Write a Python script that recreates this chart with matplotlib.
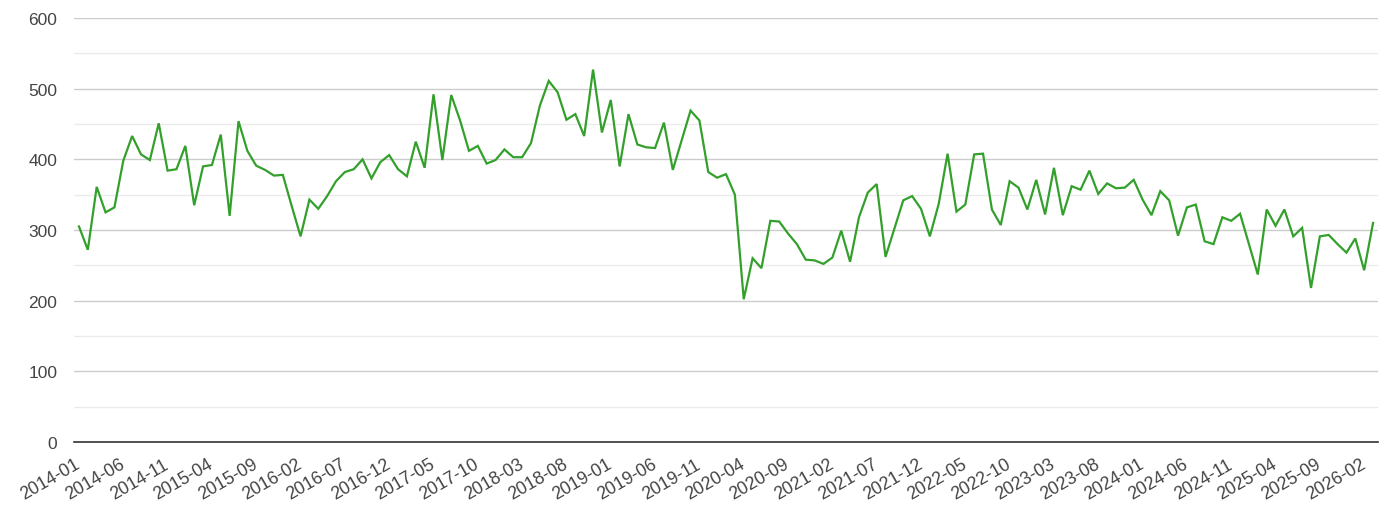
import matplotlib
matplotlib.use("Agg")
import matplotlib.pyplot as plt
from matplotlib.ticker import MultipleLocator
import pandas as pd

# ---- data ----
start_month = "2014-01"
values = [
    305, 272, 361, 325, 332, 398, 433, 407, 399, 451, 384, 386,   # 2014
    419, 335, 390, 392, 435, 320, 454, 412, 391, 385, 377, 378,   # 2015
    334, 291, 343, 330, 348, 369, 382, 386, 400, 373, 396, 406,   # 2016
    386, 376, 425, 388, 492, 399, 491, 455, 412, 419, 394, 399,   # 2017
    414, 403, 403, 423, 476, 511, 495, 456, 464, 433, 527, 438,   # 2018
    484, 390, 464, 421, 417, 416, 452, 385, 427, 469, 455, 382,   # 2019
    374, 379, 350, 202, 260, 246, 313, 312, 295, 280, 258, 257,   # 2020
    252, 261, 299, 255, 318, 353, 365, 262, 302, 342, 348, 330,   # 2021
    291, 337, 408, 326, 336, 407, 408, 329, 307, 369, 360, 329,   # 2022
    371, 322, 388, 321, 362, 357, 384, 351, 366, 359, 360, 371,   # 2023
    343, 321, 355, 342, 292, 332, 336, 284, 280, 318, 313, 323,   # 2024
    280, 237, 329, 306, 329, 291, 303, 218, 291, 293, 280, 268,   # 2025
    288, 243, 310,                                                # 2026
]
months = pd.period_range(start_month, periods=len(values), freq="M").strftime("%Y-%m").tolist()
tick_labels = [
    "2014-01", "2014-06", "2014-11", "2015-04", "2015-09", "2016-02", "2016-07",
    "2016-12", "2017-05", "2017-10", "2018-03", "2018-08", "2019-01", "2019-06",
    "2019-11", "2020-04", "2020-09", "2021-02", "2021-07", "2021-12", "2022-05",
    "2022-10", "2023-03", "2023-08", "2024-01", "2024-06", "2024-11", "2025-04",
    "2025-09", "2026-02",
]
y_max = 600

# ---- plot ----
plt.rcParams["font.family"] = ["Liberation Sans", "DejaVu Sans"]
fig = plt.figure(figsize=(13.9, 5.1), dpi=100)
ax = fig.add_axes([74 / 1390, 1 - 443 / 510, (1378 - 74) / 1390, (443 - 19) / 510])

x = list(range(len(values)))
ax.plot(x, values, color="#33a02c", linewidth=1.6, solid_joinstyle="miter", zorder=3)

n = len(values)
ax.set_xlim(-0.56, n - 1 + 0.56)
ax.set_ylim(0, y_max)

ax.yaxis.set_major_locator(MultipleLocator(100))
ax.yaxis.set_minor_locator(MultipleLocator(50))
ax.grid(which="major", axis="y", color="#cccccc", linewidth=1.0)
ax.grid(which="minor", axis="y", color="#ebebeb", linewidth=1.0)
ax.set_axisbelow(True)

tick_pos = [months.index(t) for t in tick_labels]
ax.set_xticks(tick_pos)
ax.set_xticklabels(tick_labels, rotation=30, ha="right", va="center",
                   rotation_mode="anchor", fontsize=12.8, color="#444444")
ax.tick_params(axis="x", length=0, pad=15)
ax.tick_params(axis="y", which="both", length=0, pad=12, labelsize=12.5, labelcolor="#444444")

for side in ["top", "right", "left"]:
    ax.spines[side].set_visible(False)
ax.spines["bottom"].set_color("#333333")
ax.spines["bottom"].set_linewidth(1.2)

fig.savefig("out.png", dpi=100)
